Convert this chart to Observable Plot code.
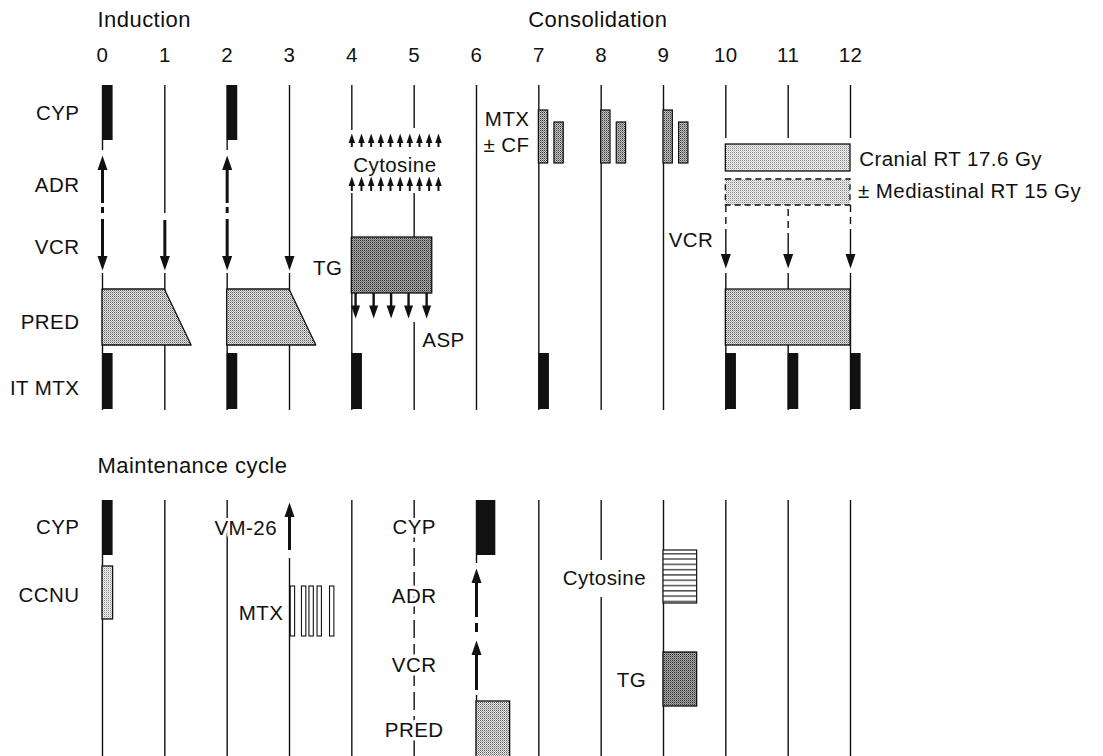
<!DOCTYPE html>
<html><head><meta charset="utf-8">
<script src="https://cdn.jsdelivr.net/npm/d3@7"></script>
<script src="https://cdn.jsdelivr.net/npm/@observablehq/plot@0.6"></script>
<style>
html,body{margin:0;padding:0;background:#fff;}
#chart svg text{letter-spacing:0.45px}
</style></head><body><div id="chart"></div>
<script>
// ---------------- data (weeks of treatment) ----------------
const weekTicks = [0,1,2,3,4,5,6,7,8,9,10,11,12];
const tickLabels = ["0","1","2","3","4","5","6","7","8","9","10","11","12"];
const phaseNames = ["Induction", "Consolidation", "Maintenance cycle"];
const inductionRows = ["CYP", "ADR", "VCR", "PRED", "IT MTX"];
const maintenanceRows = ["CYP", "CCNU"];
const maintenanceColumn = ["CYP", "ADR", "VCR", "PRED"];

const inductionCYP = [0, 2];
const inductionADR = [0, 2];
const inductionVCR = [0, 1, 2, 3];
const inductionPREDstart = [0, 2];
const inductionPREDfull = [1, 3];
const inductionPREDend = [1.43, 3.43];
const itMTX = [0, 2, 4, 7, 10, 11, 12];
const cytosineDoses = [4.0, 4.155, 4.31, 4.465, 4.62, 4.775, 4.93, 5.085, 5.24, 5.39];
const tgCourse = [4, 5.29];
const aspDoses = [4.06, 4.35, 4.63, 4.91, 5.2];
const mtxCFweeks = [7, 8, 9];
const mtxCFoffsets = [[0, 0.15], [0.25, 0.40]];
const consolidationVCR = [10, 11, 12];
const radiotherapy = [10, 12];
const consolidationPRED = [10, 12];
const maintCYP1 = [0, 0.17];
const maintCCNU = [0, 0.17];
const maintVM26 = [3];
const maintMTXdoses = [3.02, 3.2, 3.32, 3.45, 3.65];
const maintCYP2 = [6, 6.31];
const maintADR = [6];
const maintVCR = [6];
const maintPRED = [6, 6.54];
const maintCytosine = [9, 9.54];
const maintTG = [9, 9.54];

// ---------------- layout (vertical units of the schematic) ----------------
const Y = {
  phaseTop: 19, ticks: 55, phaseBottom: 465,
  rowTop: {"CYP":113, "ADR":185, "VCR":247, "PRED":322, "IT MTX":388},
  rowBottom: {"CYP":527, "CCNU":595},
  colBottom: {"CYP":527, "ADR":596, "VCR":665, "PRED":730},
  cyp: [85, 140], itmtx: [353, 409], pred: [289, 345],
  adrTip: 155, vcrTip: 270, consVcrTip: 268,
  cytTips: [133, 176], cytShafts: [[139,147],[182,191]],
  tg: [237, 293], aspShaft: [293, 308], aspTip: 318,
  mtxCFtop: [110, 122], mtxCFbottom: 163,
  cranial: [144, 171], mediastinal: [179, 205],
  mCyp: [500, 555], mCcnu: [566, 619], vm26Tip: 502, mMtx: [586, 636],
  mAdrTip: 568, mVcrTip: 640, mPred: [701, 760], mCyt: [550, 603], mTg: [652, 706]
};
const labelX = -0.37;

// vertical guide segments per week: [y1,y2,style]
const topSegs = {
  0: [[85,150,"t"],[165,203,"T"],[207,213,"T"],[219,258,"T"],[273,410,"t"]],
  1: [[85,213,"t"],[220,258,"T"],[273,410,"t"]],
  2: [[85,150,"t"],[165,203,"T"],[207,213,"T"],[219,258,"T"],[273,410,"t"]],
  3: [[85,258,"t"],[273,410,"t"]],
  4: [[85,130,"t"],[193,410,"t"]],
  5: [[85,128,"t"],[193,237,"t"],[322,410,"t"]],
  6: [[85,410,"t"]], 7: [[85,410,"t"]], 8: [[85,410,"t"]], 9: [[85,410,"t"]],
  10: [[85,138,"t"],[205,233,"d"],[233,258,"t"],[273,410,"t"]],
  11: [[85,138,"t"],[209,233,"d"],[233,258,"t"],[273,410,"t"]],
  12: [[85,138,"t"],[205,233,"d"],[233,258,"t"],[273,410,"t"]]
};
const bottomSegs = {
  0: [[500,760,"t"]], 1: [[500,760,"t"]], 2: [[500,760,"t"]],
  3: [[512,550,"T"],[558,760,"t"]],
  4: [[500,760,"t"]], 5: [[500,760,"D"]],
  6: [[500,563,"t"],[578,617,"T"],[623,632,"T"],[650,690,"T"],[695,760,"t"]],
  7: [[500,760,"t"]], 8: [[500,560,"t"],[597,760,"t"]],
  9: [[500,760,"t"]], 10: [[500,760,"t"]], 11: [[500,760,"t"]], 12: [[500,760,"t"]]
};
const segs = [];
for (const src of [topSegs, bottomSegs]) for (const w in src) for (const [y1,y2,s] of src[w]) segs.push({x:+w, y1, y2, s});

// ---------------- build mark tables ----------------
const rect = (x1,x2,y1,y2) => ({x1,x2,y1,y2});
const blackBars = [
  ...inductionCYP.map(w => rect(w, w+0.17, ...Y.cyp)),
  ...itMTX.map(w => rect(w, w+0.17, ...Y.itmtx)),
  rect(...maintCYP1, ...Y.mCyp),
  rect(...maintCYP2, ...Y.mCyp)
];
const cfBars = mtxCFweeks.flatMap(w => mtxCFoffsets.map(([a,b],i) => rect(w+a, w+b, Y.mtxCFtop[i], Y.mtxCFbottom)));
const darkBars = [rect(...tgCourse, ...Y.tg), rect(...maintTG, ...Y.mTg)];
const medBars = [rect(...consolidationPRED, ...Y.pred), rect(...maintPRED, ...Y.mPred)];
const lightBars = [rect(...radiotherapy, ...Y.cranial), rect(...maintCCNU, ...Y.mCcnu)];
const dashBars = [rect(...radiotherapy, ...Y.mediastinal)];
const hatchBars = [rect(...maintCytosine, ...Y.mCyt)];
const openBars = maintMTXdoses.map(w => rect(w, w+0.07, ...Y.mMtx));
const trap = inductionPREDstart.flatMap((s,i) => [
  {id:i, y:Y.pred[0], x1:s, x2:inductionPREDfull[i]},
  {id:i, y:Y.pred[1], x1:s, x2:inductionPREDend[i]}
]);

const downHeads = [
  ...inductionVCR.map(w => ({x:w, y:Y.vcrTip})),
  ...consolidationVCR.map(w => ({x:w, y:Y.consVcrTip}))
];
const upHeads = [
  ...inductionADR.map(w => ({x:w, y:Y.adrTip})),
  ...maintVM26.map(w => ({x:w, y:Y.vm26Tip})),
  ...maintADR.map(w => ({x:w, y:Y.mAdrTip})),
  ...maintVCR.map(w => ({x:w, y:Y.mVcrTip}))
];
const cytHeads = Y.cytTips.flatMap(t => cytosineDoses.map(w => ({x:w, y:t})));
const cytShafts = Y.cytShafts.flatMap(([a,b]) => cytosineDoses.map(w => ({x:w, y1:a, y2:b})));
const aspHeads = aspDoses.map(w => ({x:w, y:Y.aspTip}));
const aspShafts = aspDoses.map(w => ({x:w, y1:Y.aspShaft[0], y2:Y.aspShaft[1]}));

const ticks = weekTicks.map((w,i) => ({x:w, y:Y.ticks, text:tickLabels[i]}));
const endLabels = [
  ...inductionRows.map(r => ({x:labelX, y:Y.rowTop[r], text:r})),
  ...maintenanceRows.map(r => ({x:labelX, y:Y.rowBottom[r], text:r})),
  {x:3.85, y:268, text:"TG"},
  {x:6.85, y:119, text:"MTX"},
  {x:6.85, y:145, text:"± CF"},
  {x:9.8, y:240, text:"VCR"},
  {x:2.9, y:613, text:"MTX"},
  {x:8.72, y:578, text:"Cytosine"},
  {x:8.72, y:680, text:"TG"}
];
const haloEndLabels = [{x:2.8, y:528, text:"VM-26"}];
const startLabels = [
  {x:5.13, y:340, text:"ASP"},
  {x:12.14, y:159, text:"Cranial RT 17.6 Gy"},
  {x:12.12, y:191, text:"± Mediastinal RT 15 Gy"}
];
const phaseLabels = [
  {x:-0.08, y:Y.phaseTop, text:phaseNames[0]},
  {x:6.83, y:Y.phaseTop, text:phaseNames[1]},
  {x:-0.08, y:Y.phaseBottom, text:phaseNames[2]}
];
const middleLabels = [{x:4.69, y:165, text:"Cytosine"}];
const haloMiddleLabels = maintenanceColumn.map(r => ({x:5, y:Y.colBottom[r], text:r}));

const headSymbol = {
  draw(ctx, size) {
    const r = Math.sqrt(size / Math.PI), L = 1.45 * r, w = 0.5 * r;
    ctx.moveTo(0, 0); ctx.lineTo(-w, -L); ctx.lineTo(w, -L); ctx.closePath();
  }
};

const FONT = "Liberation Sans, Arial, Helvetica, sans-serif";
const txt = (data, anchor, extra = {}) => Plot.text(data, {x:"x", y:"y", text:"text", textAnchor:anchor, fontSize:20.5, fontFamily:FONT, fill:"#111", ...extra});
const rects = (data, o) => Plot.rect(data, {x1:"x1", x2:"x2", y1:"y1", y2:"y2", ...o});

const svg = Plot.plot({
  width: 1103, height: 756, margin: 0,
  style: {background: "#fff", fontFamily: FONT},
  x: {type: "linear", domain: [0, 12], range: [102, 850], axis: null},
  y: {type: "linear", domain: [0, 756], range: [0, 756], axis: null},
  marks: [
    Plot.ruleX(segs.filter(d => d.s === "t"), {x:"x", y1:"y1", y2:"y2", stroke:"#111", strokeWidth:1.4}),
    Plot.ruleX(segs.filter(d => d.s === "T"), {x:"x", y1:"y1", y2:"y2", stroke:"#111", strokeWidth:3}),
    Plot.ruleX(segs.filter(d => d.s === "d"), {x:"x", y1:"y1", y2:"y2", stroke:"#111", strokeWidth:1.4, strokeDasharray:"7,5"}),
    Plot.ruleX(segs.filter(d => d.s === "D"), {x:"x", y1:"y1", y2:"y2", stroke:"#111", strokeWidth:1.4, strokeDasharray:"18,6"}),
    Plot.ruleX(cytShafts, {x:"x", y1:"y1", y2:"y2", stroke:"#111", strokeWidth:2}),
    Plot.ruleX(aspShafts, {x:"x", y1:"y1", y2:"y2", stroke:"#111", strokeWidth:2.4}),
    rects(blackBars, {fill:"#111"}),
    rects(cfBars, {fill:"url(#stipCF)", stroke:"#111", strokeWidth:1.2}),
    rects(darkBars, {fill:"url(#stipDark)", stroke:"#111", strokeWidth:1.3}),
    rects(medBars, {fill:"url(#stipMed)", stroke:"#111", strokeWidth:1.3}),
    rects(lightBars, {fill:"url(#stipLight)", stroke:"#111", strokeWidth:1.3}),
    rects(dashBars, {fill:"url(#stipLight)", stroke:"#111", strokeWidth:1.3, strokeDasharray:"6,4"}),
    rects(hatchBars, {fill:"url(#hatch)", stroke:"#111", strokeWidth:1.2}),
    rects(openBars, {fill:"#fff", stroke:"#111", strokeWidth:1.1}),
    Plot.areaX(trap, {y:"y", x1:"x1", x2:"x2", z:"id", fill:"url(#stipMed)", stroke:"#111", strokeWidth:1.3}),
    Plot.dot(downHeads, {x:"x", y:"y", r:10, symbol:headSymbol, fill:"#111", stroke:"none"}),
    Plot.dot(upHeads, {x:"x", y:"y", r:10, symbol:headSymbol, rotate:180, fill:"#111", stroke:"none"}),
    Plot.dot(cytHeads, {x:"x", y:"y", r:6.5, symbol:headSymbol, rotate:180, fill:"#111", stroke:"none"}),
    Plot.dot(aspHeads, {x:"x", y:"y", r:9, symbol:headSymbol, fill:"#111", stroke:"none"}),
    txt(ticks, "middle"),
    txt(endLabels, "end"),
    txt(haloEndLabels, "end", {stroke:"#fff", strokeWidth:6, paintOrder:"stroke"}),
    txt(startLabels, "start"),
    txt(middleLabels, "middle"),
    txt(haloMiddleLabels, "middle", {stroke:"#fff", strokeWidth:7, paintOrder:"stroke"}),
    txt(phaseLabels, "start", {fontSize:22})
  ]
});

const defs = `<defs>
<pattern id="stipMed" width="2" height="2" patternUnits="userSpaceOnUse"><rect width="2" height="2" fill="#e8e8e8"/><rect width="1" height="1" fill="#5e5e5e"/><rect x="1" y="1" width="1" height="1" fill="#a0a0a0"/></pattern>
<pattern id="stipLight" width="2" height="2" patternUnits="userSpaceOnUse"><rect width="2" height="2" fill="#f2f2f2"/><rect width="1" height="1" fill="#888"/><rect x="1" y="1" width="1" height="1" fill="#c8c8c8"/></pattern>
<pattern id="stipDark" width="2" height="2" patternUnits="userSpaceOnUse"><rect width="2" height="2" fill="#a8a8a8"/><rect width="1" height="1" fill="#2e2e2e"/><rect x="1" y="1" width="1" height="1" fill="#707070"/></pattern>
<pattern id="stipCF" width="2" height="2" patternUnits="userSpaceOnUse"><rect width="2" height="2" fill="#c4c4c4"/><rect width="1" height="1" fill="#3c3c3c"/><rect x="1" y="1" width="1" height="1" fill="#808080"/></pattern>
<pattern id="hatch" width="4" height="5.3" patternUnits="userSpaceOnUse"><rect width="4" height="5.3" fill="#fff"/><rect y="2" width="4" height="1.1" fill="#111"/></pattern>
</defs>`;
svg.insertAdjacentHTML("afterbegin", defs);
document.getElementById("chart").appendChild(svg);
</script></body></html>
